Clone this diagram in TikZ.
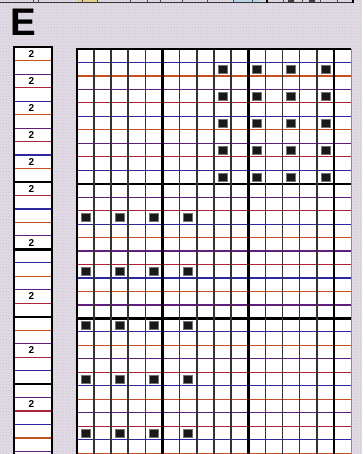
\documentclass[tikz,border=0pt]{standalone}
\usepackage{fontspec}
\setsansfont{Liberation Sans}
\usetikzlibrary{patterns}

\definecolor{paper}{RGB}{224,218,228}
\definecolor{speck}{RGB}{188,172,198}
\definecolor{hc0}{RGB}{170,35,60}
\definecolor{hc1}{RGB}{45,40,155}
\definecolor{hc2}{RGB}{195,80,35}
\definecolor{hc3}{RGB}{95,30,120}

\begin{document}
\begin{tikzpicture}[
    x=1pt, y=-1pt,
    vline/.style  ={draw=black!80, line width=1.5pt},
    vthick/.style ={draw=black, line width=2.8pt},
    hline/.style  ={line width=1.2pt},
    hthick/.style ={draw=black, line width=2.3pt},
    cell/.style   ={fill=black!90, draw=black!55, line width=0.4pt},
    count/.style  ={font=\sffamily\bfseries\fontsize{10}{10}\selectfont, inner sep=0pt},
    panel/.style  ={font=\sffamily\bfseries\fontsize{38.5}{38.5}\selectfont, inner sep=0pt, anchor=north west}
  ]

  % paper
  \fill[paper] (0,0) rectangle (362,454);
  \fill[pattern=dots, pattern color=speck] (0,0) rectangle (362,454);
  \useasboundingbox (0,0) rectangle (362,454);

  % edge of the previous panel
  \draw[black!80, line width=0.8pt] (0,2.7) -- (353,2.7);
  \fill[yellow!60!orange, opacity=0.4] (77,0) rectangle (97,2.3);
  \fill[cyan!50, opacity=0.4] (233,0) rectangle (260,2.3);
  \foreach \x in {33,38,82,97,130,147,160,182,207,233,252,283,302,320,337}
    \draw[black!70, line width=0.8pt] (\x,0) -- (\x,2.7);
  \draw[black, line width=1.6pt] (267,0) -- (267,3) (353,0) -- (353,3);
  \fill[black!75] (288,0) rectangle (294,2.3) (309,0) rectangle (315,2.3);

  \node[panel] (panelE) at (10.2,9.3) {E};

  % row strip
  \fill[white] (14,47.3) rectangle (52,456);
  \foreach \k in {1,...,30}{
    \pgfmathtruncatemacro\m{mod(\k+1,4)}
    \draw[hline, draw=hc\m] (14,{47.3+13.47*\k}) -- (52,{47.3+13.47*\k});
  }
  \foreach \k in {10,15,20,25}
    \draw[hthick] (14,{47.3+13.47*\k}) -- (52,{47.3+13.47*\k});
  \draw[black, line width=2.2pt] (14,456) -- (14,47.3) -- (52,47.3) -- (52,456);
  \foreach \k in {0,2,4,6,8,10,14,18,22,26}
    \node[count] (two\k) at (31.5,{47.3+13.47*(\k+0.5)}) {2};

  % matrix grid
  \fill[white] (76.7,49) rectangle (351.1,456);
  \foreach \r in {1,...,30}{
    \pgfmathtruncatemacro\m{mod(\r,4)}
    \draw[hline, draw=hc\m] (76.7,{49+13.47*\r}) -- (351.1,{49+13.47*\r});
  }
  \foreach \r in {10,20}
    \draw[hthick] (76.7,{49+13.47*\r}) -- (351.1,{49+13.47*\r});
  \foreach \c in {1,...,14}
    \draw[vline] ({76.7+17.15*\c},49) -- ({76.7+17.15*\c},456);
  \foreach \c in {5,10,15}
    \draw[vthick] ({76.7+17.15*\c},49) -- ({76.7+17.15*\c},456);
  \draw[black!45, line width=0.9pt] (351.1,49) -- (351.1,456);
  \draw[black, line width=1.9pt] (76.7,456) -- (76.7,49) -- (351.1,49);

  % occupied cells
  \foreach \c in {8,10,12,14}
    \foreach \r in {1,3,5,7,9}
      \fill[cell] ({76.7+17.15*(\c+0.5)-4.5},{49+13.47*(\r+0.5)-4}) rectangle ++(9,8);
  \foreach \c in {0,2,4,6}
    \foreach \r in {12,16,20,24,28}
      \fill[cell] ({76.7+17.15*(\c+0.5)-4.5},{49+13.47*(\r+0.5)-4}) rectangle ++(9,8);

\end{tikzpicture}
\end{document}
